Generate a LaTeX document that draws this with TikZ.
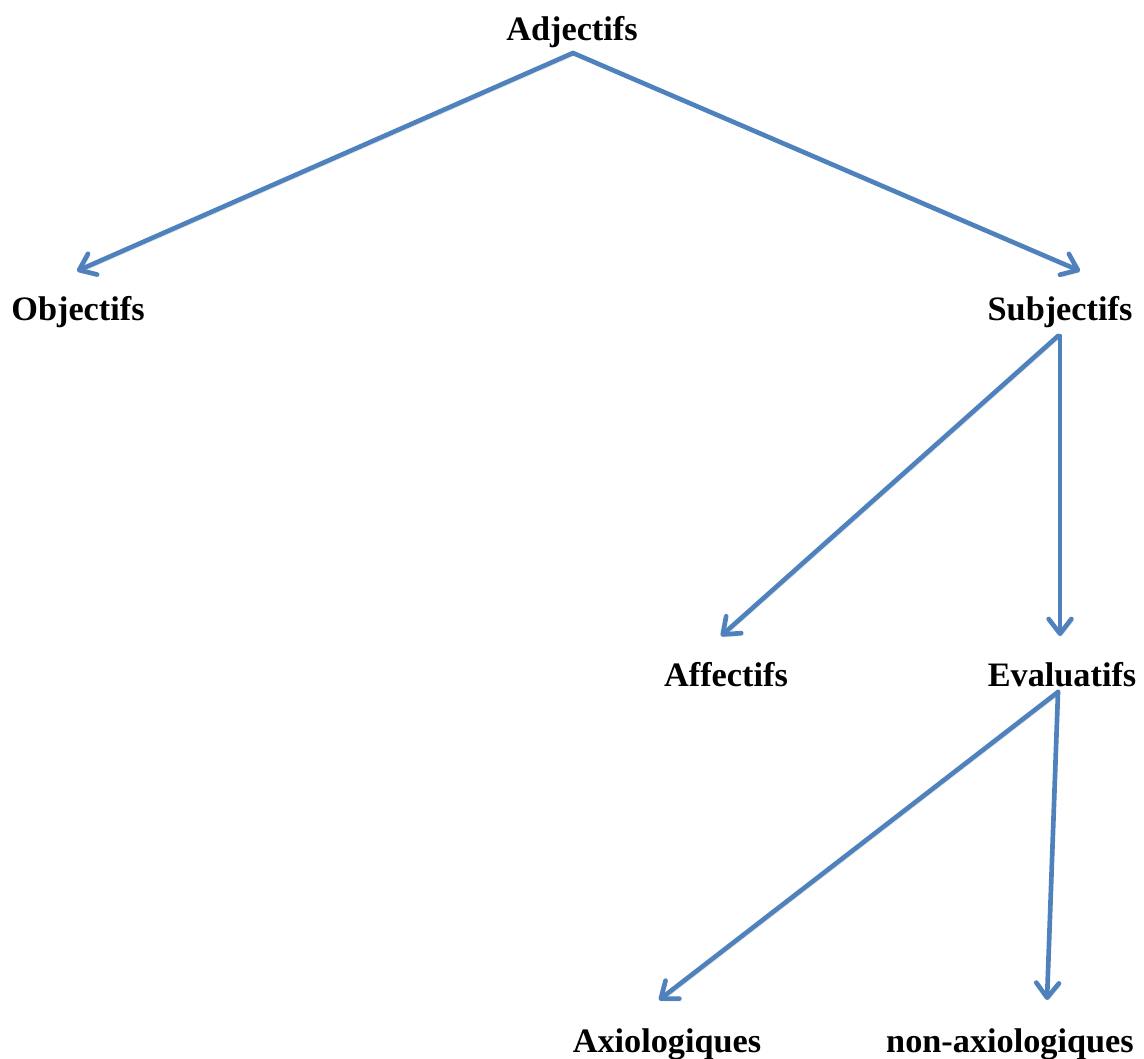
\documentclass[tikz,border=0pt]{standalone}
\usepackage{fontspec}
\setmainfont{Liberation Serif}
\usetikzlibrary{arrows.meta}
\definecolor{linkblue}{HTML}{4F81BD}
\begin{document}
\begin{tikzpicture}[x=0.75pt,y=-0.75pt,
  label/.style={anchor=base,inner sep=0pt,font=\fontsize{25.7pt}{30pt}\selectfont\bfseries},
  link/.style={draw=linkblue,line width=3.5pt,line cap=round,line join=round,
    -{Straight Barb[length=11pt,width=17pt,round]},
    preaction={draw=black,opacity=0.12,transform canvas={shift={(1.2pt,-1.8pt)}}}}]
\useasboundingbox (0,0) rectangle (1144,1058);
% category labels
\node[label] (adj)  at (572,40)   {Adjectifs};
\node[label] (obj)  at (78,320)   {Objectifs};
\node[label] (subj) at (1060,320) {Subjectifs};
\node[label] (aff)  at (726,686)  {Affectifs};
\node[label] (eval) at (1062,686) {Evaluatifs};
\node[label] (axio) at (667,1052) {Axiologiques};
\node[label] (nax)  at (1010,1052){non-axiologiques};
% branches
\draw[link] ([shift={(1,13)}]adj.base) -- ([shift={(-1,-49)}]obj.base);
\draw[link] ([shift={(1,13)}]adj.base) -- ([shift={(20,-49)}]subj.base);
\draw[link] ([shift={(-2,16)}]subj.base) -- ([shift={(-5,-50)}]aff.base);
\draw[link] ([shift={(0,16)}]subj.base) -- ([shift={(-2,-50)}]eval.base);
\draw[link] ([shift={(-4,6)}]eval.base) -- ([shift={(-8,-52)}]axio.base);
\draw[link] ([shift={(-4,6)}]eval.base) -- ([shift={(37,-52)}]nax.base);
\end{tikzpicture}
\end{document}
